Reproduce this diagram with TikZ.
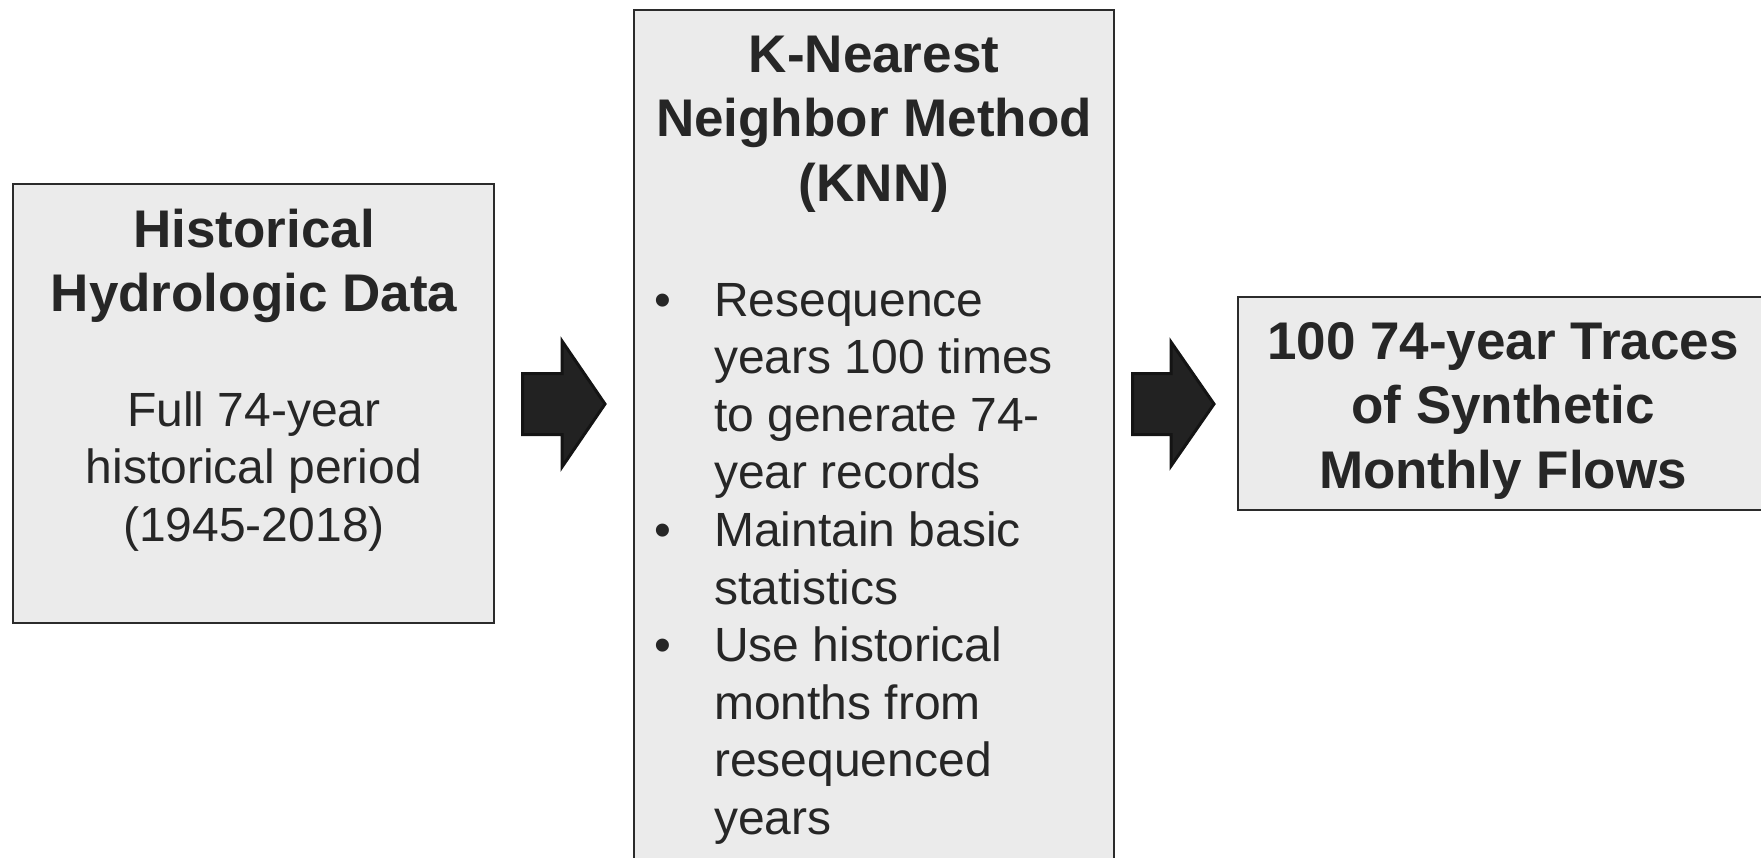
\documentclass[tikz,border=0pt]{standalone}
\usepackage{fontspec}
\setmainfont{Liberation Sans}
\definecolor{boxfill}{HTML}{EBEBEB}
\definecolor{boxline}{HTML}{2B2B2B}
\definecolor{txt}{HTML}{262626}
\definecolor{arrfill}{HTML}{222222}
\definecolor{arrline}{HTML}{141414}
\tikzset{
  box/.style={draw=boxline, fill=boxfill, line width=1.6pt, rectangle, inner sep=0pt},
  ttl/.style={anchor=base, text=txt, inner sep=0pt, font=\fontsize{53}{64}\selectfont\bfseries},
  bodyc/.style={anchor=base, text=txt, inner sep=0pt, font=\fontsize{48}{57.6}\selectfont},
  bodyl/.style={anchor=base west, text=txt, inner sep=0pt, font=\fontsize{48}{57.6}\selectfont},
  blockarrow/.style={fill=arrfill, draw=arrline, line width=3pt, line join=miter}
}
\begin{document}
\begin{tikzpicture}[x=1pt,y=-1pt]
\useasboundingbox (0,0) rectangle (1761,857);
% boxes
\node[box, minimum width=481pt, minimum height=439pt] (hist) at (253.5,403.5) {};
\node[box, minimum width=480pt, minimum height=880pt] (knn) at (874,450) {};
\node[box, minimum width=530pt, minimum height=213pt] (out) at (1503,403.5) {};
% box 1 text
\node[ttl] (h1) at (254,247) {Historical};
\node[ttl] (h2) at (254,311) {Hydrologic Data};
\node[bodyc] (h3) at (254,426) {Full 74-year};
\node[bodyc] (h4) at (254,483.6) {historical period};
\node[bodyc] (h5) at (254,541.2) {(1945-2018)};
% box 2 text
\node[ttl] (k1) at (874,72) {K-Nearest};
\node[ttl] (k2) at (874,136.6) {Neighbor Method};
\node[ttl] (k3) at (874,201.2) {(KNN)};
\foreach \t [count=\i] in {Resequence,years 100 times,to generate 74-,year records,Maintain basic,statistics,Use historical,months from,resequenced,years}{
  \node[bodyl] (kl\i) at (714,{316+(\i-1)*57.6}) {\t};
}
\node[bodyc] (b1) at (663,316) {•};
\node[bodyc] (b2) at (663,546.4) {•};
\node[bodyc] (b3) at (663,661.6) {•};
% box 3 text
\node[ttl] (o1) at (1503,359) {100 74-year Traces};
\node[ttl] (o2) at (1503,423.6) {of Synthetic};
\node[ttl] (o3) at (1503,488.2) {Monthly Flows};
% block arrows
\draw[blockarrow] (522.5,373.5) -- (562,373.5) -- (562,341) -- (605,404) -- (562,467) -- (562,434.5) -- (522.5,434.5) -- cycle;
\draw[blockarrow] (1132.5,373.5) -- (1171,373.5) -- (1171,342) -- (1214,404) -- (1171,466) -- (1171,434.5) -- (1132.5,434.5) -- cycle;
\end{tikzpicture}
\end{document}
